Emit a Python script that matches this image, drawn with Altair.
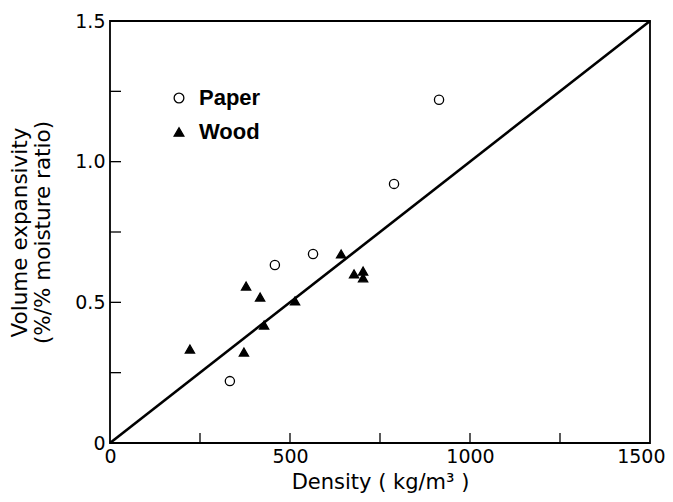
import altair as alt
import pandas as pd

# Data
paper_density = [333, 458, 564, 789, 914]
paper_expansivity = [0.22, 0.633, 0.672, 0.921, 1.22]

wood_density = [222, 372, 378, 417, 428, 514, 642, 678, 703, 703]
wood_expansivity = [0.334, 0.323, 0.558, 0.519, 0.419, 0.505, 0.672, 0.601, 0.611, 0.587]

fit_density = [0, 1500]
fit_expansivity = [0.0, 1.5]

x_ticks_minor = [250, 500, 750, 1000, 1250]
y_ticks_minor = [0.25, 0.5, 0.75, 1.0, 1.25]
x_labels = [0, 500, 1000, 1500]
y_labels = [0, 0.5, 1.0, 1.5]

W, H = 540, 422
FONT = "DejaVu Sans"
X_TITLE = "Density ( kg/m³ )"
Y_TITLE = ["Volume expansivity", "(%/% moisture ratio)"]

pts = pd.DataFrame(
    {
        "density": paper_density + wood_density,
        "exp": paper_expansivity + wood_expansivity,
        "material": ["Paper"] * len(paper_density) + ["Wood"] * len(wood_density),
    }
)
fit = pd.DataFrame({"density": fit_density, "exp": fit_expansivity})
xt = pd.DataFrame({"density": x_ticks_minor})
yt = pd.DataFrame({"exp": y_ticks_minor})

xscale = alt.Scale(domain=[0, 1500], nice=False, zero=False)
yscale = alt.Scale(domain=[0, 1.5], nice=False, zero=False)

xaxis = alt.Axis(
    values=x_labels, ticks=False, domain=False, grid=False,
    labelFont=FONT, labelFontSize=19, labelColor="black", labelPadding=4,
    labelFlush=False, format="d",
    labelAlign={"condition": {"test": "datum.value == 1500", "value": "right"}, "value": "center"},
    labelOffset={"condition": {"test": "datum.value == 1500", "value": 15}, "value": 0},
    titleFont=FONT, titleFontSize=21, titleFontWeight="normal", titleColor="black",
    titlePadding=5,
)
yaxis = alt.Axis(
    values=y_labels, ticks=False, domain=False, grid=False,
    labelFont=FONT, labelFontSize=19, labelColor="black", labelPadding=5,
    labelExpr="datum.value == 0 ? '0' : format(datum.value, '.1f')",
    titleFont=FONT, titleFontSize=21.5, titleFontWeight="normal", titleColor="black",
    titlePadding=20, titleLineHeight=23,
)

X = alt.X("density:Q", scale=xscale, axis=xaxis, title=X_TITLE)
Y = alt.Y("exp:Q", scale=yscale, axis=yaxis, title=Y_TITLE)

leg = alt.Legend(
    title=None, orient="none", legendX=58, legendY=66,
    labelFont="Liberation Sans", labelFontWeight="bold", labelFontSize=22,
    labelColor="black", labelOffset=9, rowPadding=12,
    symbolSize=95, symbolStrokeWidth=1.3,
)
dom = ["Paper", "Wood"]

line = alt.Chart(fit).mark_line(color="black", strokeWidth=2.6).encode(x=X, y=Y)

points = alt.Chart(pts).mark_point(filled=True, strokeWidth=1.3, opacity=1).encode(
    x=X,
    y=Y,
    shape=alt.Shape("material:N", scale=alt.Scale(domain=dom, range=["circle", "triangle-up"]), legend=leg),
    fill=alt.Fill("material:N", scale=alt.Scale(domain=dom, range=["white", "black"]), legend=leg),
    stroke=alt.Stroke("material:N", scale=alt.Scale(domain=dom, range=["black", "black"]), legend=leg),
    size=alt.value(85),
)

xtick_rules = alt.Chart(xt).mark_rule(color="black", strokeWidth=1.3).encode(
    x=X,
    y=alt.value(H),
    y2=alt.value(H - 10),
)
ytick_rules = alt.Chart(yt).mark_rule(color="black", strokeWidth=1.3).encode(
    y=Y,
    x=alt.value(0),
    x2=alt.value(11),
)

chart = (
    alt.layer(line, points, xtick_rules, ytick_rules)
    .properties(
        width=W, height=H,
        autosize=alt.AutoSizeParams(type="none"),
        padding={"left": 102, "top": 13, "right": 15, "bottom": 51},
        background="white",
    )
    .configure_view(stroke="black", strokeWidth=1.8)
)

chart.save("out.html", embed_options={"renderer": "svg", "actions": False})
